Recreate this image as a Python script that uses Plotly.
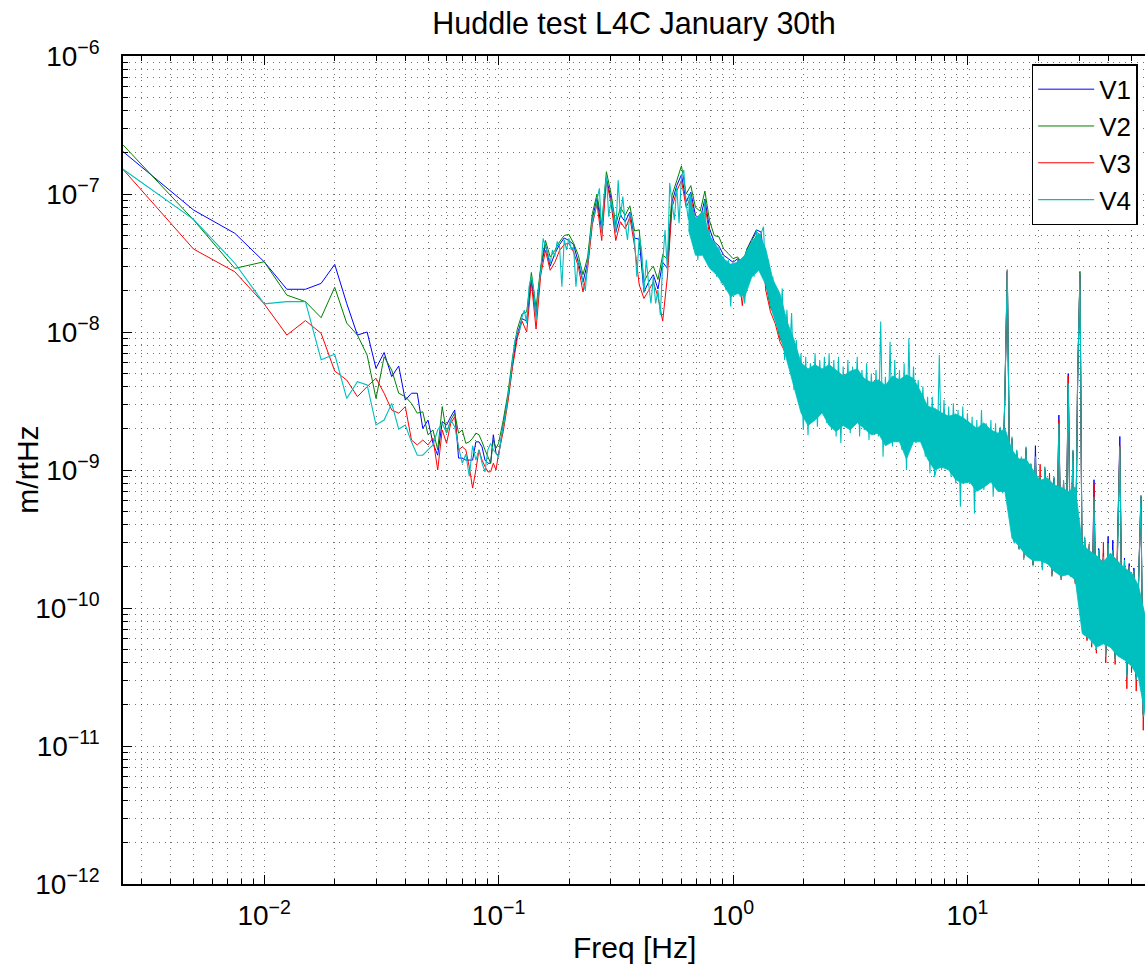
import plotly.graph_objects as go

# ---------------- data ----------------
# low-frequency bins (0.0025 Hz resolution)
freq_lo = [0.0025, 0.005, 0.0075, 0.01, 0.0125, 0.015, 0.0175, 0.02, 0.0225, 0.025,
           0.0275, 0.03, 0.0325, 0.035, 0.0375, 0.04, 0.0425, 0.045, 0.0475, 0.05,
           0.0525, 0.055, 0.0575, 0.06, 0.0625, 0.065, 0.0675, 0.07, 0.0725, 0.075,
           0.0775, 0.08, 0.0825, 0.085, 0.0875, 0.09, 0.0925, 0.095, 0.0975, 0.1]

v1_lo = [2.03e-7, 7.65e-8, 5.19e-8, 3.23e-8, 2.04e-8, 2.04e-8, 2.25e-8, 3.09e-8, 1.61e-8, 9.5e-9,
         1.0e-8, 5.45e-9, 7.1e-9, 4.75e-9, 5.67e-9, 3.21e-9, 3.6e-9, 3.6e-9, 2.0e-9, 2.3e-9,
         1.56e-9, 1.28e-9, 2.24e-9, 2.12e-9, 2.43e-9, 2.72e-9, 1.22e-9, 1.22e-9, 1.18e-9, 1.18e-9,
         1.18e-9, 1.6e-9, 1.6e-9, 1.47e-9, 1.18e-9, 1.12e-9, 1.12e-9, 1.8e-9, 1.32e-9, 1.28e-9]
v2_lo = [2.27e-7, 6.49e-8, 2.89e-8, 3.23e-8, 1.85e-8, 1.66e-8, 1.27e-8, 2.11e-8, 1.16e-8, 9.5e-9,
         6.8e-9, 3.3e-9, 6.62e-9, 5.3e-9, 3.6e-9, 3.4e-9, 3.04e-9, 2.58e-9, 2.64e-9, 1.8e-9,
         1.95e-9, 1.4e-9, 2.88e-9, 1.85e-9, 2.3e-9, 2.58e-9, 1.85e-9, 1.95e-9, 1.56e-9, 1.6e-9,
         1.7e-9, 1.85e-9, 1.8e-9, 1.6e-9, 1.4e-9, 1.25e-9, 1.12e-9, 1.65e-9, 1.44e-9, 1.56e-9]
v3_lo = [1.51e-7, 3.99e-8, 2.73e-8, 1.6e-8, 9.5e-9, 1.21e-8, 9.78e-9, 5.21e-9, 4.49e-9, 3.4e-9,
         4.02e-9, 4.62e-9, 3.6e-9, 2.72e-9, 2.58e-9, 2.88e-9, 1.65e-9, 1.52e-9, 1.65e-9, 1.52e-9,
         1.7e-9, 1.0e-9, 1.95e-9, 1.56e-9, 2.18e-9, 2.43e-9, 1.4e-9, 1.47e-9, 1.4e-9, 1.05e-9,
         7.4e-10, 1.0e-9, 1.4e-9, 1.18e-9, 1.06e-9, 9.7e-10, 9.7e-10, 1.12e-9, 1.0e-9, 1.32e-9]
v4_lo = [1.51e-7, 6.55e-8, 3.15e-8, 1.6e-8, 1.66e-8, 1.66e-8, 6.3e-9, 6.9e-9, 3.3e-9, 4.36e-9,
         4.13e-9, 2.12e-9, 2.3e-9, 3.04e-9, 1.98e-9, 2.12e-9, 1.6e-9, 1.28e-9, 1.28e-9, 1.4e-9,
         1.52e-9, 1.95e-9, 2.18e-9, 1.85e-9, 2.3e-9, 2.06e-9, 1.47e-9, 1.12e-9, 1.3e-9, 9.0e-10,
         1.5e-9, 1.18e-9, 1.4e-9, 1.12e-9, 9.7e-10, 1.4e-9, 1.56e-9, 1.4e-9, 1.32e-9, 1.25e-9]

# fine frequency points above 0.1 Hz (V4)
freq_fine = [0.1023, 0.1047, 0.1072, 0.1096, 0.1122, 0.1148, 0.1175, 0.1202, 0.1230, 0.1259,
             0.1288, 0.1318, 0.1349, 0.1380, 0.1413, 0.1445, 0.1479, 0.1514, 0.1549, 0.1585,
             0.1622, 0.1660, 0.1698, 0.1738, 0.1778, 0.1820, 0.1862, 0.1905, 0.1950, 0.1995,
             0.2042, 0.2089, 0.2138, 0.2188, 0.2239, 0.2291, 0.2344, 0.2399, 0.2455, 0.2512,
             0.2570, 0.2630, 0.2692, 0.2754, 0.2818, 0.2884, 0.2951, 0.3020, 0.3090, 0.3162,
             0.3236, 0.3311, 0.3388, 0.3467, 0.3548, 0.3631, 0.3715, 0.3802, 0.3890, 0.3981,
             0.4074, 0.4169, 0.4266, 0.4365, 0.4467, 0.4571, 0.4677, 0.4786, 0.4898, 0.5012,
             0.5129, 0.5248, 0.5370, 0.5495, 0.5623, 0.5754, 0.5888, 0.6026, 0.6166, 0.6310,
             0.6457, 0.6607, 0.6761, 0.6918, 0.7079, 0.7244, 0.7413, 0.7586, 0.7762, 0.7943,
             0.8128, 0.8318, 0.8511, 0.8710, 0.8913, 0.9120, 0.9333, 0.9550, 0.9772, 1.000,
             1.023, 1.047, 1.072, 1.096, 1.122, 1.148, 1.175, 1.202, 1.230, 1.259,
             1.288, 1.318, 1.349, 1.380, 1.413, 1.445, 1.479, 1.514, 1.549, 1.585,
             1.622, 1.660, 1.698, 1.738, 1.778, 1.820, 1.862, 1.905, 1.950, 1.995,
             2.042, 2.089, 2.138, 2.188, 2.239, 2.291, 2.344, 2.399, 2.455, 2.512,
             2.570, 2.630, 2.692, 2.754, 2.818, 2.884, 2.951, 3.020, 3.090, 3.162,
             3.236, 3.311, 3.388, 3.467, 3.548, 3.631, 3.715, 3.802, 3.890, 3.981,
             4.074, 4.169, 4.266, 4.365, 4.467, 4.571, 4.677, 4.786, 4.898, 5.012,
             5.129, 5.248, 5.370, 5.495, 5.623, 5.754, 5.888, 6.026, 6.166, 6.310,
             6.457, 6.607, 6.761, 6.918, 7.079, 7.244, 7.413, 7.586, 7.762, 7.943,
             8.128, 8.318, 8.511, 8.710, 8.913, 9.120, 9.333, 9.550, 9.772, 10.00,
             10.23, 10.47, 10.72, 10.96, 11.22, 11.48, 11.75, 12.02, 12.30, 12.59,
             12.88, 13.18, 13.49, 13.80, 14.13, 14.45, 14.79, 15.14, 15.49, 15.85,
             16.22, 16.60, 16.98, 17.38, 17.78, 18.20, 18.62, 19.05, 19.50, 19.95,
             20.42, 20.89, 21.38, 21.88, 22.39, 22.91, 23.44, 23.99, 24.55, 25.12,
             25.70, 26.30, 26.92, 27.54, 28.18, 28.84, 29.51, 30.20, 30.90, 31.62,
             32.36, 33.11, 33.88, 34.67, 35.48, 36.31, 37.15, 38.02, 38.90, 39.81,
             40.74, 41.69, 42.66, 43.65, 44.67, 45.71, 46.77, 47.86, 48.98, 50.12,
             51.29, 52.48, 53.70, 54.95, 56.23, 57.54, 58.88]

v4_hi = [1.65e-9, 2.06e-9, 2.58e-9, 3.4e-9, 4.5e-9, 6.3e-9, 8.75e-9, 1.0e-8, 1.03e-8, 1.29e-8,
         1.44e-8, 1.16e-8, 2.13e-8, 2.52e-8, 2.01e-8, 1.22e-8, 2.01e-8, 2.81e-8, 4.77e-8, 4.15e-8,
         3.72e-8, 3.15e-8, 3.93e-8, 3.52e-8, 4.52e-8, 4.15e-8, 2.13e-8, 4.65e-8, 3.93e-8, 4.77e-8,
         3.93e-8, 4.15e-8, 2.13e-8, 3.33e-8, 2.97e-8, 2.25e-8, 2.01e-8, 3.15e-8, 4.65e-8, 6.49e-8,
         7.25e-8, 9.06e-8, 1.10e-7, 5.19e-8, 9.57e-8, 1.34e-7, 6.85e-8, 9.06e-8, 7.25e-8, 5.19e-8,
         1.26e-7, 6.85e-8, 9.57e-8, 6.14e-8, 4.65e-8, 7.25e-8, 6.49e-8, 4.65e-8, 2.52e-8, 4.91e-8,
         3.93e-8, 1.91e-8, 3.33e-8, 2.25e-8, 1.61e-8, 2.52e-8, 1.61e-8, 2.01e-8, 1.33e-8, 3.15e-8,
         5.48e-8, 2.81e-8, 1.2e-7, 8.57e-8, 6.49e-8, 1.13e-7, 6.14e-8, 1.34e-7, 1.49e-7, 8.57e-8,
         6.49e-8, 1.01e-7, 5.19e-8, 6.85e-8, 3.33e-8, 6.49e-8, 3.93e-8, 9.06e-8, 3.52e-8, 5.48e-8,
         2.81e-8, 4.39e-8, 2.52e-8, 4.15e-8, 2.25e-8, 3.52e-8, 2.01e-8, 3.33e-8, 1.53e-8, 3.15e-8,
         2.01e-8, 3.33e-8, 1.8e-8, 2.97e-8, 1.61e-8, 3.93e-8, 2.38e-8, 4.65e-8, 2.52e-8, 5.48e-8,
         2.81e-8, 5.19e-8, 5.8e-8, 2.25e-8, 3.33e-8, 1.53e-8, 2.52e-8, 1.29e-8, 2.01e-8, 9.25e-9,
         2.07e-8, 6.27e-9, 1.45e-8, 5.93e-9, 1.37e-8, 3.8e-9, 8.75e-9, 3.6e-9, 7.0e-9, 1.95e-9,
         6.62e-9, 1.79e-9, 5.93e-9, 2.44e-9, 7.0e-9, 2.06e-9, 6.27e-9, 2.72e-9, 6.62e-9, 2.18e-9,
         7.0e-9, 1.95e-9, 6.27e-9, 1.75e-9, 6.62e-9, 1.56e-9, 5.61e-9, 2.06e-9, 6.27e-9, 1.85e-9,
         5.61e-9, 2.44e-9, 6.62e-9, 1.75e-9, 5.31e-9, 1.95e-9, 5.93e-9, 1.65e-9, 5.0e-9, 2.06e-9,
         5.31e-9, 1.75e-9, 1.19e-8, 1.25e-9, 4.74e-9, 1.56e-9, 8.5e-9, 1.48e-9, 6.27e-9, 1.75e-9,
         5.31e-9, 1.4e-9, 5.93e-9, 1.0e-9, 9.0e-9, 1.75e-9, 5.61e-9, 1.56e-9, 4.49e-9, 1.75e-9,
         4.02e-9, 1.25e-9, 3.4e-9, 9.46e-10, 3.4e-9, 8.95e-10, 1.06e-9, 6.81e-9, 1.0e-9, 3.21e-9,
         1.12e-9, 2.88e-9, 8.95e-10, 3.04e-9, 8.0e-10, 2.72e-9, 5.42e-10, 2.88e-9, 8.95e-10, 2.58e-9,
         8.0e-10, 2.43e-9, 4.85e-10, 2.3e-9, 8.0e-10, 2.72e-9, 7.16e-10, 2.18e-9, 8.47e-10, 2.3e-9,
         6.41e-10, 2.18e-9, 7.16e-10, 2.06e-9, 6.78e-10, 3.8e-9, 2.85e-8, 8.0e-10, 1.75e-9, 2.94e-10,
         1.4e-9, 2.63e-10, 1.25e-9, 2.23e-10, 1.48e-9, 2.36e-10, 1.12e-9, 2.0e-10, 1.25e-9, 2.23e-10,
         8.95e-10, 1.88e-10, 1.06e-9, 2.11e-10, 8.47e-10, 1.69e-10, 8.95e-10, 1.88e-10, 2.18e-9, 1.6e-10,
         8.47e-10, 1.88e-10, 4.25e-9, 1.69e-10, 1.4e-9, 1.51e-10, 4.49e-9, 2.66e-8, 1.14e-10, 3.29e-10,
         6.2e-11, 2.94e-10, 5.54e-11, 6.41e-10, 4.96e-11, 2.63e-10, 6.2e-11, 2.36e-10, 4.44e-11, 2.94e-10,
         5.54e-11, 2.63e-10, 4.2e-11, 2.49e-10, 1.48e-9, 4.96e-11, 2.23e-10, 3.18e-11, 2.0e-10, 3.76e-11,
         1.88e-10, 3.0e-11, 1.51e-10, 6.59e-10, 1.63e-11, 8.65e-11, 1.1e-11]

# coarser frequency points above 0.1 Hz (V1, V2, V3)
freq_b = [0.1047, 0.1096, 0.1148, 0.1202, 0.1259, 0.1318, 0.1380, 0.1445, 0.1514, 0.1585,
          0.1660, 0.1738, 0.1820, 0.1905, 0.1995, 0.2089, 0.2188, 0.2291, 0.2399, 0.2512,
          0.2630, 0.2754, 0.2884, 0.3020, 0.3162, 0.3311, 0.3467, 0.3631, 0.3802, 0.3981,
          0.4169, 0.4365, 0.4571, 0.4786, 0.5012, 0.5248, 0.5495, 0.5754, 0.6026, 0.6310,
          0.6607, 0.6918, 0.7244, 0.7586, 0.7943, 0.8318, 0.8710, 0.9120, 0.9550, 1.000,
          1.047, 1.096, 1.148, 1.202, 1.259, 1.318, 1.380, 1.445, 1.514, 1.585,
          1.738, 1.905, 2.089, 2.291, 2.512, 2.754, 3.020, 3.311, 3.631, 3.981,
          4.365, 4.786, 5.248, 5.754, 6.310, 6.918, 7.586, 8.318, 9.120, 10.00,
          10.96, 12.02, 13.18,
          13.80, 14.13, 14.45, 14.79, 15.14, 15.49, 15.85, 16.22, 16.60, 16.98,
          17.38, 17.78, 18.20, 18.62, 19.05, 19.50, 19.95, 20.42, 20.89, 21.38,
          21.88, 22.39, 22.91, 23.44, 23.99, 24.55, 25.12, 25.70, 26.30, 26.92,
          27.54, 28.18, 28.84, 29.51, 30.20, 30.90, 31.62, 32.36, 33.11, 33.88,
          34.67, 35.48, 36.31, 37.15, 38.02, 38.90, 39.81, 40.74, 41.69, 42.66,
          43.65, 44.67, 45.71, 46.77, 47.86, 48.98, 50.12, 51.29, 52.48, 53.70,
          54.95, 56.23, 57.54, 58.88]

v1_hi = [2.1e-9, 3.3e-9, 6.0e-9, 9.6e-9, 1.25e-8, 1.2e-8, 2.45e-8, 1.3e-8, 2.9e-8, 4.3e-8,
         3.0e-8, 3.7e-8, 4.3e-8, 4.8e-8, 4.6e-8, 4.3e-8, 3.2e-8, 2.3e-8, 3.2e-8, 6.6e-8,
         9.3e-8, 5.4e-8, 1.3e-7, 9.2e-8, 5.3e-8, 7.0e-8, 6.3e-8, 7.4e-8, 4.8e-8, 4.7e-8,
         1.95e-8, 2.3e-8, 2.6e-8, 2.05e-8, 3.2e-8, 2.9e-8, 8.8e-8, 1.15e-7, 1.38e-7, 8.8e-8,
         1.03e-7, 7.0e-8, 6.6e-8, 9.2e-8, 5.6e-8, 4.5e-8, 4.2e-8, 3.6e-8, 3.4e-8, 3.2e-8,
         3.4e-8, 3.0e-8, 4.0e-8, 4.7e-8, 5.5e-8, 5.3e-8, 2.3e-8, 1.55e-8, 1.3e-8, 9.4e-9,
         6.5e-9, 4.2e-9, 3.2e-9, 3.0e-9, 3.8e-9, 2.8e-9, 3.4e-9, 2.6e-9, 3.3e-9, 2.5e-9,
         3.1e-9, 2.4e-9, 3.0e-9, 2.2e-9, 2.0e-9, 1.5e-9, 1.9e-9, 1.3e-9, 1.7e-9, 1.2e-9,
         1.6e-9, 1.1e-9, 1.5e-9,
         1.9e-9, 7.2e-10, 3.5e-9, 2.75e-8, 8.5e-10, 1.6e-9, 3.1e-10, 1.3e-9, 2.8e-10, 1.2e-9,
         2.4e-10, 1.35e-9, 2.5e-10, 1.05e-9, 2.1e-10, 1.5e-9, 2.3e-10, 8.5e-10, 2.0e-10, 1.0e-9,
         2.2e-10, 8.0e-10, 1.8e-10, 8.5e-10, 1.9e-10, 2.5e-9, 1.7e-10, 8.0e-10, 1.9e-10, 5.0e-9,
         1.75e-10, 1.3e-9, 1.6e-10, 4.3e-9, 2.6e-8, 1.2e-10, 3.1e-10, 6.5e-11, 2.8e-10, 6.0e-11,
         8.5e-10, 5.2e-11, 2.7e-10, 6.5e-11, 2.5e-10, 4.8e-11, 3.3e-10, 5.8e-11, 3.1e-10, 4.5e-11,
         2.6e-10, 1.75e-9, 5.2e-11, 2.3e-10, 3.4e-11, 2.1e-10, 3.9e-11, 1.95e-10, 3.2e-11, 1.6e-10,
         6.0e-10, 1.7e-11, 8.0e-11, 1.2e-11]
v2_hi = [2.3e-9, 3.6e-9, 6.6e-9, 1.05e-8, 1.35e-8, 1.4e-8, 2.7e-8, 1.5e-8, 3.0e-8, 4.6e-8,
         3.5e-8, 3.9e-8, 4.5e-8, 5.0e-8, 5.1e-8, 4.4e-8, 3.6e-8, 2.6e-8, 3.5e-8, 7.2e-8,
         1.0e-7, 6.0e-8, 1.45e-7, 1.0e-7, 6.0e-8, 8.0e-8, 7.0e-8, 8.2e-8, 5.4e-8, 5.5e-8,
         2.3e-8, 2.7e-8, 3.0e-8, 2.4e-8, 3.6e-8, 3.4e-8, 9.8e-8, 1.25e-7, 1.6e-7, 1.0e-7,
         1.15e-7, 8.0e-8, 7.5e-8, 1.05e-7, 6.4e-8, 5.0e-8, 4.9e-8, 4.0e-8, 3.7e-8, 3.4e-8,
         3.5e-8, 3.1e-8, 4.0e-8, 4.6e-8, 5.3e-8, 5.0e-8, 2.3e-8, 1.5e-8, 1.3e-8, 9.0e-9,
         6.8e-9, 4.5e-9, 3.5e-9, 2.9e-9, 3.6e-9, 3.0e-9, 3.2e-9, 2.8e-9, 3.1e-9, 2.7e-9,
         3.3e-9, 2.5e-9, 2.8e-9, 2.4e-9, 2.1e-9, 1.6e-9, 1.8e-9, 1.4e-9, 1.6e-9, 1.3e-9,
         1.5e-9, 1.2e-9, 1.4e-9,
         1.95e-9, 7.0e-10, 3.6e-9, 2.7e-8, 8.2e-10, 1.65e-9, 3.0e-10, 1.35e-9, 2.7e-10, 1.2e-9,
         2.3e-10, 1.4e-9, 2.4e-10, 1.1e-9, 2.05e-10, 1.2e-9, 2.3e-10, 8.7e-10, 1.95e-10, 1.0e-9,
         2.15e-10, 8.2e-10, 1.75e-10, 8.7e-10, 1.9e-10, 2.1e-9, 1.65e-10, 8.2e-10, 1.9e-10, 4.2e-9,
         1.7e-10, 1.35e-9, 1.55e-10, 4.4e-9, 2.75e-8, 1.15e-10, 3.2e-10, 6.3e-11, 2.9e-10, 5.7e-11,
         6.3e-10, 5.0e-11, 2.6e-10, 6.3e-11, 2.3e-10, 4.6e-11, 2.9e-10, 5.6e-11, 2.6e-10, 4.3e-11,
         2.45e-10, 1.45e-9, 5.0e-11, 2.2e-10, 3.3e-11, 1.95e-10, 3.8e-11, 1.85e-10, 3.1e-11, 1.5e-10,
         6.4e-10, 1.7e-11, 8.4e-11, 1.15e-11]
v3_hi = [1.9e-9, 3.1e-9, 5.6e-9, 9.0e-9, 1.2e-8, 1.0e-8, 2.3e-8, 1.05e-8, 2.6e-8, 3.9e-8,
         2.8e-8, 3.2e-8, 3.9e-8, 4.3e-8, 4.4e-8, 3.8e-8, 3.0e-8, 1.95e-8, 2.9e-8, 6.0e-8,
         8.5e-8, 4.6e-8, 1.25e-7, 8.5e-8, 4.6e-8, 6.3e-8, 5.6e-8, 6.8e-8, 4.2e-8, 2.2e-8,
         1.75e-8, 2.0e-8, 2.3e-8, 1.8e-8, 1.2e-8, 2.5e-8, 8.0e-8, 1.05e-7, 1.25e-7, 8.0e-8,
         9.5e-8, 6.3e-8, 3.6e-8, 8.5e-8, 5.0e-8, 3.0e-8, 3.8e-8, 2.3e-8, 3.0e-8, 2.8e-8,
         3.0e-8, 1.55e-8, 3.6e-8, 4.3e-8, 5.0e-8, 4.8e-8, 2.0e-8, 1.4e-8, 1.15e-8, 8.5e-9,
         6.2e-9, 4.0e-9, 3.4e-9, 3.2e-9, 3.5e-9, 2.7e-9, 3.6e-9, 2.9e-9, 3.0e-9, 2.6e-9,
         3.4e-9, 2.6e-9, 2.7e-9, 2.3e-9, 1.9e-9, 1.7e-9, 1.7e-9, 1.5e-9, 1.5e-9, 1.4e-9,
         1.4e-9, 1.3e-9, 1.3e-9,
         2.0e-9, 7.0e-10, 3.7e-9, 2.8e-8, 8.3e-10, 1.7e-9, 3.0e-10, 1.38e-9, 2.7e-10, 1.22e-9,
         2.3e-10, 1.45e-9, 2.4e-10, 1.1e-9, 2.05e-10, 1.22e-9, 2.3e-10, 1.1e-9, 1.9e-10, 1.04e-9,
         2.1e-10, 9.5e-10, 1.7e-10, 8.8e-10, 1.9e-10, 2.3e-9, 1.6e-10, 8.3e-10, 1.9e-10, 4.8e-9,
         1.7e-10, 1.38e-9, 1.5e-10, 4.8e-9, 2.6e-8, 1.1e-10, 3.2e-10, 5.8e-11, 2.9e-10, 5.2e-11,
         8.0e-10, 4.7e-11, 2.6e-10, 5.9e-11, 3.0e-10, 4.0e-11, 2.9e-10, 5.2e-11, 2.6e-10, 3.9e-11,
         3.2e-10, 1.5e-9, 4.6e-11, 2.2e-10, 2.6e-11, 2.0e-10, 3.4e-11, 1.85e-10, 2.5e-11, 1.5e-10,
         6.5e-10, 1.3e-11, 8.5e-11, 9.5e-12]

# dense part of the V4 noise band (upper / lower edge of the solid cloud)
band_freq = [0.6457, 0.6918, 0.7413, 0.7943, 0.8511, 0.9120, 0.9772, 1.047, 1.122, 1.202,
             1.288, 1.380, 1.479, 1.585, 1.698, 1.820, 1.950, 2.089, 2.239, 2.399,
             2.570, 2.754, 2.951, 3.162, 3.388, 3.631, 3.890, 4.169, 4.467, 4.786,
             5.129, 5.495, 5.888, 6.310, 6.761, 7.244, 7.762, 8.318, 8.913, 9.550,
             10.23, 10.96, 11.75, 12.59, 13.49, 14.45, 15.49, 16.60, 17.78, 19.05,
             20.42, 21.88, 23.44, 25.12, 26.92, 28.84, 30.90, 33.11, 35.48, 38.02,
             40.74, 43.65, 46.77, 50.12, 53.70, 57.54]
band_hi = [1.0e-7, 6.6e-8, 7.5e-8, 5.0e-8, 4.2e-8, 3.4e-8, 3.1e-8, 3.2e-8, 3.6e-8, 4.5e-8,
           5.2e-8, 4.0e-8, 2.4e-8, 1.9e-8, 1.2e-8, 8.8e-9, 6.0e-9, 5.4e-9, 5.8e-9, 5.4e-9,
           5.8e-9, 5.3e-9, 4.8e-9, 5.2e-9, 5.4e-9, 4.6e-9, 4.3e-9, 4.5e-9, 4.1e-9, 4.8e-9,
           4.5e-9, 4.9e-9, 4.6e-9, 3.7e-9, 2.9e-9, 2.8e-9, 2.6e-9, 2.45e-9, 2.55e-9, 2.4e-9,
           2.2e-9, 2.0e-9, 2.2e-9, 1.95e-9, 1.85e-9, 2.0e-9, 1.4e-9, 1.2e-9, 1.2e-9, 1.0e-9,
           8.4e-10, 8.8e-10, 7.8e-10, 7.5e-10, 7.0e-10, 7.5e-10, 2.9e-10, 2.6e-10, 2.4e-10, 2.15e-10,
           2.5e-10, 2.2e-10, 1.95e-10, 1.8e-10, 1.45e-10, 8.5e-11]
band_lo = [5.5e-8, 3.6e-8, 3.6e-8, 2.9e-8, 2.6e-8, 2.2e-8, 1.8e-8, 1.9e-8, 1.8e-8, 2.5e-8,
           2.8e-8, 2.2e-8, 1.35e-8, 9.5e-9, 6.2e-9, 4.0e-9, 2.6e-9, 2.1e-9, 2.3e-9, 2.6e-9,
           2.1e-9, 1.9e-9, 2.1e-9, 1.95e-9, 2.2e-9, 2.0e-9, 1.8e-9, 1.85e-9, 1.5e-9, 1.6e-9,
           1.6e-9, 1.2e-9, 1.6e-9, 1.6e-9, 1.2e-9, 1.0e-9, 1.05e-9, 1.0e-9, 8.5e-10, 8.0e-10,
           8.2e-10, 7.0e-10, 7.5e-10, 8.2e-10, 7.0e-10, 7.0e-10, 3.2e-10, 2.8e-10, 2.4e-10, 2.2e-10,
           2.2e-10, 2.1e-10, 1.85e-10, 1.7e-10, 1.75e-10, 1.6e-10, 6.5e-11, 6.0e-11, 5.2e-11, 5.5e-11,
           5.2e-11, 4.5e-11, 4.2e-11, 3.8e-11, 3.1e-11, 1.6e-11]

# ticks
x_tick_vals = [0.01, 0.1, 1, 10]
x_tick_text = ["10<sup>\u22122</sup>", "10<sup>\u22121</sup>", "10<sup>0</sup>", "10<sup>1</sup>"]
y_tick_vals = [1e-12, 1e-11, 1e-10, 1e-9, 1e-8, 1e-7, 1e-6]
y_tick_text = ["10<sup>\u221212</sup>", "10<sup>\u221211</sup>", "10<sup>\u221210</sup>",
               "10<sup>\u22129</sup>", "10<sup>\u22128</sup>", "10<sup>\u22127</sup>",
               "10<sup>\u22126</sup>"]

names = ["V1", "V2", "V3", "V4"]
colors = ["#0000FF", "#008000", "#FF0000", "#00BFBF"]

assert len(freq_lo) == len(v1_lo) == len(v2_lo) == len(v3_lo) == len(v4_lo)
assert len(freq_fine) == len(v4_hi), (len(freq_fine), len(v4_hi))
assert len(freq_b) == len(v1_hi) == len(v2_hi) == len(v3_hi), (len(freq_b), len(v1_hi), len(v2_hi), len(v3_hi))
assert len(band_freq) == len(band_hi) == len(band_lo), (len(band_freq), len(band_hi), len(band_lo))

# ---------------- figure ----------------
FONT = "Liberation Sans, Arial, Helvetica, sans-serif"
fig = go.Figure()

series = [(freq_lo + freq_b, v1_lo + v1_hi),
          (freq_lo + freq_b, v2_lo + v2_hi),
          (freq_lo + freq_b, v3_lo + v3_hi)]
for (fx, fy), nm, col in zip(series, names[:3], colors[:3]):
    fig.add_trace(go.Scatter(x=fx, y=fy, mode="lines", name=nm,
                             line=dict(color=col, width=1, simplify=False)))

fig.add_trace(go.Scatter(x=band_freq + band_freq[::-1], y=band_hi + band_lo[::-1],
                         mode="lines", fill="toself", fillcolor=colors[3],
                         line=dict(width=0.8, color=colors[3], simplify=False),
                         showlegend=False, hoverinfo="skip"))
fig.add_trace(go.Scatter(x=freq_lo + freq_fine, y=v4_lo + v4_hi, mode="lines", name=names[3],
                         line=dict(color=colors[3], width=1.1, simplify=False)))

grid_color = "rgba(0,0,0,0.55)"
grid_dash = "1px,5px"

x_minor = [m * 10.0 ** e for e in range(-3, 2) for m in range(2, 10)]
y_minor = [m * 10.0 ** e for e in range(-12, -6) for m in range(2, 10)]

common = dict(type="log", showline=True, linecolor="black", linewidth=1.5,
              ticks="inside", ticklen=9, tickwidth=1, tickcolor="black",
              showgrid=True, gridcolor=grid_color, gridwidth=1, griddash=grid_dash,
              zeroline=False, automargin=False, tickmode="array",
              tickfont=dict(family=FONT, size=28, color="black"))

fig.update_xaxes(range=[-2.60206, 1.7574], tickvals=x_tick_vals, ticktext=x_tick_text,
                 mirror="ticks", ticklabelstandoff=6,
                 minor=dict(tickmode="array", tickvals=x_minor, ticks="inside", ticklen=5,
                            tickwidth=1, tickcolor="black", showgrid=True,
                            gridcolor=grid_color, gridwidth=1, griddash=grid_dash),
                 **common)
fig.update_yaxes(range=[-12, -6], tickvals=y_tick_vals, ticktext=y_tick_text,
                 mirror=False, ticklabelstandoff=16,
                 minor=dict(tickmode="array", tickvals=y_minor, ticks="inside", ticklen=5,
                            tickwidth=1, tickcolor="black", showgrid=True,
                            gridcolor=grid_color, gridwidth=1, griddash=grid_dash),
                 **common)

fig.update_layout(
    width=1145, height=972,
    margin=dict(l=123, r=0, t=56, b=88, autoexpand=False),
    paper_bgcolor="white", plot_bgcolor="white",
    font=dict(family=FONT, color="black"),
    title=dict(text="Huddle test L4C January 30th", x=0.5, xref="paper", xanchor="center",
               y=1 - 23 / 972, yref="container", yanchor="middle",
               font=dict(family=FONT, size=30.5, color="black")),
    legend=dict(x=0.8891, y=0.990, xanchor="left", yanchor="top", bgcolor="white",
                bordercolor="black", borderwidth=1.5, itemwidth=56, tracegroupgap=0,
                font=dict(family=FONT, size=26, color="black")),
    annotations=[
        dict(text="Freq [Hz]", x=0.5, y=(884 - 948) / 828, xref="paper", yref="paper",
             xanchor="center", yanchor="middle", showarrow=False,
             font=dict(family=FONT, size=30, color="black")),
        dict(text="m/rtHz", x=(26.7 - 123) / 1022, y=0.5, xref="paper", yref="paper",
             xanchor="center", yanchor="middle", textangle=-90, showarrow=False,
             font=dict(family=FONT, size=30, color="black")),
    ],
)

fig.write_html("out.html", config={"displayModeBar": False},
               post_script="document.body.style.margin='0px';")
